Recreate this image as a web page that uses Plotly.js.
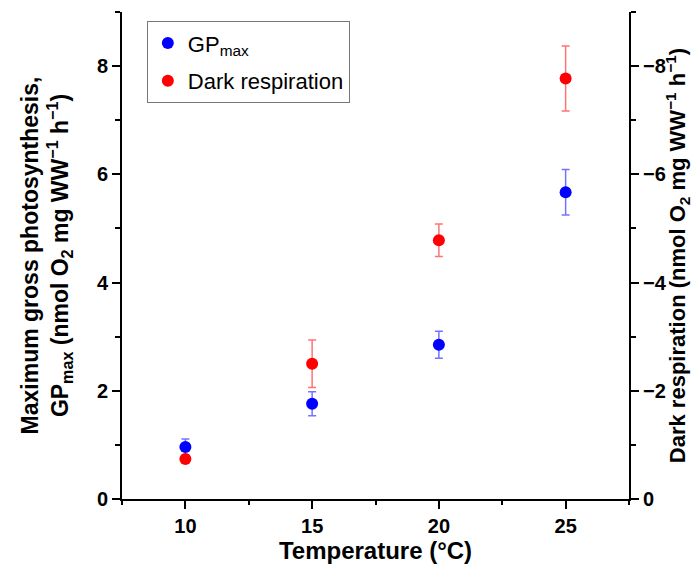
<!DOCTYPE html>
<html>
<head>
<meta charset="utf-8">
<script src="https://cdn.plot.ly/plotly-3.0.1.min.js"></script>
<style>html,body{margin:0;padding:0;background:#fff;}#chart{width:693px;height:565px;}</style>
</head>
<body>
<div id="chart"></div>
<script>
const temperature = [10, 15, 20, 25];
const gpMax = [0.96, 1.76, 2.85, 5.67];
const gpMaxErr = [0.15, 0.22, 0.25, 0.42];
const darkResp = [-0.74, -2.50, -4.78, -7.77];
const darkRespErr = [0.04, 0.44, 0.30, 0.60];

const FONT = "Liberation Sans, Arial, Helvetica, sans-serif";

const traces = [
  {
    x: temperature, y: gpMax, type: 'scatter', mode: 'markers',
    name: 'GP<sub>max</sub>', legendgroup: 'a',
    marker: {color: '#0000ff', size: 12},
    error_y: {type: 'data', array: gpMaxErr, visible: true, color: 'rgba(0,0,255,0.55)', thickness: 1.5, width: 4},
    yaxis: 'y'
  },
  {
    x: temperature, y: darkResp, type: 'scatter', mode: 'markers',
    name: 'Dark respiration', legendgroup: 'b',
    marker: {color: '#ff0000', size: 12},
    error_y: {type: 'data', array: darkRespErr, visible: true, color: 'rgba(255,0,0,0.55)', thickness: 1.5, width: 4},
    yaxis: 'y2'
  }
];

const axisCommon = {
  showline: true, linecolor: '#000', linewidth: 2,
  ticks: 'outside', ticklen: 8, tickwidth: 2, tickcolor: '#000',
  showgrid: false, zeroline: false,
  tickfont: {family: FONT, size: 20, color: '#000', weight: 'bold'}
};

const layout = {
  width: 693, height: 565,
  margin: {l: 122, r: 64, t: 12, b: 66},
  paper_bgcolor: '#fff', plot_bgcolor: '#fff',
  font: {family: FONT, color: '#000'},
  showlegend: true,
  legend: {
    x: 0.049, y: 0.981, xanchor: 'left', yanchor: 'top',
    bgcolor: '#fff', bordercolor: '#777', borderwidth: 1,
    tracegroupgap: 6, itemwidth: 30,
    font: {family: FONT, size: 22, color: '#000'}
  },
  xaxis: Object.assign({}, axisCommon, {
    range: [7.5, 27.5], tick0: 0, dtick: 5,
    minor: {dtick: 2.5, tick0: 7.5, ticks: 'outside', ticklen: 4, tickwidth: 2, tickcolor: '#000'},
    title: {text: 'Temperature (°C)', font: {family: FONT, size: 24, weight: 'bold'}, standoff: 6}
  }),
  yaxis: Object.assign({}, axisCommon, {
    range: [0, 9], tick0: 0, dtick: 2,
    minor: {dtick: 1, ticks: 'outside', ticklen: 5, tickwidth: 2, tickcolor: '#000'},
    title: {text: 'Maximum gross photosynthesis,<br>GP<sub>max</sub> (nmol O<sub>2</sub> mg WW<sup>−1</sup> h<sup>−1</sup>)', font: {family: FONT, size: 23, weight: 'bold'}, standoff: 22}
  }),
  yaxis2: Object.assign({}, axisCommon, {
    overlaying: 'y', side: 'right',
    range: [0, -9], tick0: 0, dtick: 2,
    minor: {dtick: 1, ticks: 'outside', ticklen: 5, tickwidth: 2, tickcolor: '#000'},
    title: {text: 'Dark respiration (nmol O<sub>2</sub> mg WW<sup>−1</sup> h<sup>−1</sup>)', font: {family: FONT, size: 22, weight: 'bold'}, standoff: 6}
  })
};

Plotly.newPlot('chart', traces, layout, {displayModeBar: false, staticPlot: true});
</script>
</body>
</html>
